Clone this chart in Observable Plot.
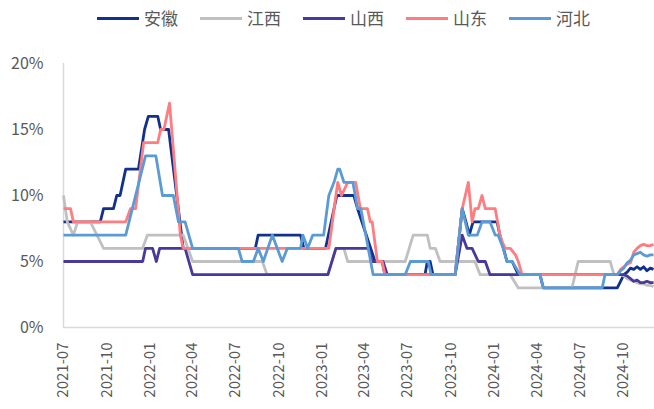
<!DOCTYPE html>
<html>
<head>
<meta charset="utf-8">
<script src="https://cdn.jsdelivr.net/npm/d3@7"></script>
<script src="https://cdn.jsdelivr.net/npm/@observablehq/plot@0.6"></script>
<style>
  html, body { margin: 0; padding: 0; background: #fff; }
  body { width: 654px; height: 409px; overflow: hidden; font-family: "Noto Sans CJK SC", "Noto Sans", sans-serif; }
  #legend { position: relative; height: 40px; }
  .item { position: absolute; top: 6px; display: flex; align-items: center; height: 24px; }
  .swatch { width: 42px; height: 3px; margin-right: 5px; }
  .name { font-size: 17px; color: #595959; line-height: 24px; }
</style>
</head>
<body>
<div id="legend"></div>
<div id="chart"></div>
<script>
// Weekly loan-rate readings per province (percent), stored as [date, value] vertices
const anhui = [["2021-07-01",8],["2021-09-17",8],["2021-09-24",9],["2021-10-15",9],["2021-10-22",10],["2021-10-29",10],["2021-11-10",12],["2021-12-07",12],["2021-12-20",15],["2021-12-28",16],["2022-01-17",16],["2022-01-23",15],["2022-02-09",15],["2022-03-12",6],["2022-08-12",6],["2022-08-18",7],["2022-11-16",7],["2022-11-23",6],["2023-01-08",6],["2023-02-01",10],["2023-03-09",10],["2023-03-17",9],["2023-04-23",5],["2023-05-08",5],["2023-05-14",4],["2023-08-07",4],["2023-08-12",5],["2023-08-18",5],["2023-08-24",4],["2023-10-10",4],["2023-10-25",9],["2023-11-02",8],["2023-11-09",7],["2023-11-17",8],["2024-01-07",8],["2024-01-13",7],["2024-01-28",5],["2024-02-08",5],["2024-02-21",4],["2024-04-07",4],["2024-04-14",3],["2024-09-18",3],["2024-09-25",3.5],["2024-10-02",4],["2024-10-09",4.2],["2024-10-16",4.5],["2024-10-23",4.4],["2024-10-30",4.6],["2024-11-06",4.4],["2024-11-13",4.6],["2024-11-20",4.3],["2024-11-27",4.5],["2024-12-04",4.4]];

const jiangxi = [["2021-07-01",10],["2021-07-09",8],["2021-07-22",7],["2021-07-31",8],["2021-08-27",8],["2021-09-24",6],["2021-12-16",6],["2021-12-26",7],["2022-03-12",7],["2022-04-01",5],["2022-08-27",5],["2022-09-06",4],["2023-01-13",4],["2023-01-30",6],["2023-02-16",6],["2023-02-24",5],["2023-06-26",5],["2023-07-13",7],["2023-08-12",7],["2023-08-18",6],["2023-08-29",6],["2023-09-08",5],["2023-11-21",5],["2023-12-02",4],["2024-02-04",4],["2024-02-21",3],["2024-06-14",3],["2024-06-27",5],["2024-09-03",5],["2024-09-11",4],["2024-09-25",4],["2024-10-02",3.9],["2024-10-09",3.7],["2024-10-16",3.6],["2024-10-23",3.5],["2024-10-30",3.4],["2024-11-06",3.3],["2024-11-13",3.3],["2024-11-20",3.2],["2024-11-27",3.2],["2024-12-04",3.1]];

const shanxi = [["2021-07-01",5],["2021-12-16",5],["2021-12-22",6],["2022-01-06",6],["2022-01-14",5],["2022-01-21",6],["2022-03-16",6],["2022-04-01",4],["2023-01-13",4],["2023-01-30",6],["2023-04-09",6],["2023-04-17",5],["2023-05-10",5],["2023-05-19",4],["2023-10-10",4],["2023-10-25",7],["2023-11-04",6],["2023-11-15",6],["2023-11-28",5],["2023-12-13",5],["2023-12-23",4],["2024-09-25",4],["2024-10-02",4],["2024-10-09",3.9],["2024-10-16",3.7],["2024-10-23",3.5],["2024-10-30",3.6],["2024-11-06",3.4],["2024-11-13",3.4],["2024-11-20",3.5],["2024-11-27",3.4],["2024-12-04",3.4]];

const shandong = [["2021-07-01",9],["2021-07-16",9],["2021-07-22",8],["2021-11-10",8],["2021-11-20",9],["2021-12-01",9],["2021-12-18",14],["2022-01-17",14],["2022-01-23",15],["2022-01-30",15],["2022-02-11",17],["2022-03-06",7],["2022-03-12",6],["2023-01-15",6],["2023-01-30",10],["2023-02-03",11],["2023-02-11",10],["2023-02-24",11],["2023-03-13",11],["2023-03-23",9],["2023-04-07",9],["2023-04-13",8],["2023-04-17",8],["2023-04-28",5],["2023-05-08",5],["2023-05-14",4],["2023-10-10",4],["2023-10-25",9],["2023-11-07",11],["2023-11-15",8],["2023-11-21",9],["2023-11-28",9],["2023-12-06",10],["2023-12-13",9],["2024-01-03",9],["2024-01-13",7],["2024-01-18",6.5],["2024-01-24",6],["2024-02-04",6],["2024-02-15",5.5],["2024-02-21",5],["2024-02-29",4],["2024-09-18",4],["2024-09-25",4.4],["2024-10-02",4.6],["2024-10-09",4.8],["2024-10-16",4.9],["2024-10-23",5.7],["2024-10-30",6.0],["2024-11-06",6.2],["2024-11-13",6.3],["2024-11-20",6.2],["2024-11-27",6.2],["2024-12-04",6.3]];

const hebei = [["2021-07-01",7],["2021-11-10",7],["2021-12-22",13],["2022-01-13",13],["2022-01-27",10],["2022-02-19",10],["2022-03-02",8],["2022-03-16",8],["2022-04-01",6],["2022-07-07",6],["2022-07-15",5],["2022-08-08",5],["2022-08-18",6],["2022-08-29",5],["2022-09-17",7],["2022-10-08",5],["2022-10-19",6],["2022-11-16",6],["2022-11-21",7],["2022-12-01",6],["2022-12-12",7],["2023-01-04",7],["2023-01-15",10],["2023-01-26",11],["2023-02-03",12],["2023-02-07",12],["2023-02-16",11],["2023-03-07",11],["2023-03-17",9],["2023-03-24",9],["2023-04-19",4],["2023-06-26",4],["2023-07-07",5],["2023-08-14",5],["2023-08-20",4],["2023-10-10",4],["2023-10-25",9],["2023-11-07",7],["2023-11-26",7],["2023-12-06",8],["2023-12-23",8],["2024-01-03",7],["2024-01-09",7],["2024-01-20",6],["2024-01-28",5],["2024-02-08",5],["2024-02-25",4],["2024-04-07",4],["2024-04-14",3],["2024-08-17",3],["2024-08-23",4],["2024-09-18",4],["2024-09-25",4.3],["2024-10-02",4.5],["2024-10-09",4.9],["2024-10-16",5.1],["2024-10-23",5.5],["2024-10-30",5.6],["2024-11-06",5.7],["2024-11-13",5.5],["2024-11-20",5.4],["2024-11-27",5.5],["2024-12-04",5.5]];

const names = ["安徽", "江西", "山西", "山东", "河北"];
const colors = ["#12318C", "#C0C0C0", "#473A9B", "#FF7C80", "#5B9BD5"];
const xTickLabels = ["2021-07","2021-10","2022-01","2022-04","2022-07","2022-10","2023-01","2023-04","2023-07","2023-10","2024-01","2024-04","2024-07","2024-10"];
const yTicks = [0, 5, 10, 15, 20];

const parseDay = d3.utcParse("%Y-%m-%d");
const parseMonth = d3.utcParse("%Y-%m");
const seriesData = [anhui, jiangxi, shanxi, shandong, hebei];

const rows = seriesData.flatMap((pts, i) =>
  pts.map(([d, v]) => ({region: names[i], date: parseDay(d), value: v}))
);

const start = parseDay("2021-07-01");
const end = parseDay("2024-12-06");
const axisColor = "#D9D9D9";

// Legend row above the plot
const legend = document.getElementById("legend");
names.forEach((n, i) => {
  const item = document.createElement("div");
  item.className = "item";
  item.style.left = (97 + i * 103) + "px";
  const sw = document.createElement("span");
  sw.className = "swatch";
  sw.style.background = colors[i];
  const label = document.createElement("span");
  label.className = "name";
  label.textContent = n;
  item.append(sw, label);
  legend.append(item);
});

const chart = Plot.plot({
  width: 654,
  height: 369,
  marginLeft: 63,
  marginRight: 0,
  marginTop: 23,
  marginBottom: 82,
  style: {fontFamily: "'Noto Sans CJK SC', 'Noto Sans', sans-serif", fontSize: "15px", color: "#595959", background: "#fff"},
  x: {type: "utc", domain: [start, end]},
  y: {domain: [0, 20]},
  color: {domain: names, range: colors},
  marks: [
    Plot.axisY(yTicks, {tickSize: 0, tickPadding: 20, tickFormat: d => d + "%", label: null, fontSize: 16}),
    Plot.axisX(xTickLabels.map(parseMonth), {tickSize: 0, tickPadding: 15, tickRotate: -90, tickFormat: d3.utcFormat("%Y-%m"), label: null, fontSize: 15}),
    Plot.ruleX([start], {stroke: axisColor, strokeWidth: 1.5}),
    Plot.ruleY([0], {stroke: axisColor, strokeWidth: 1.5}),
    Plot.line(rows, {x: "date", y: "value", z: "region", stroke: "region", strokeWidth: 2.8, strokeLinejoin: "round", strokeLinecap: "butt"})
  ]
});
document.getElementById("chart").append(chart);
</script>
</body>
</html>
